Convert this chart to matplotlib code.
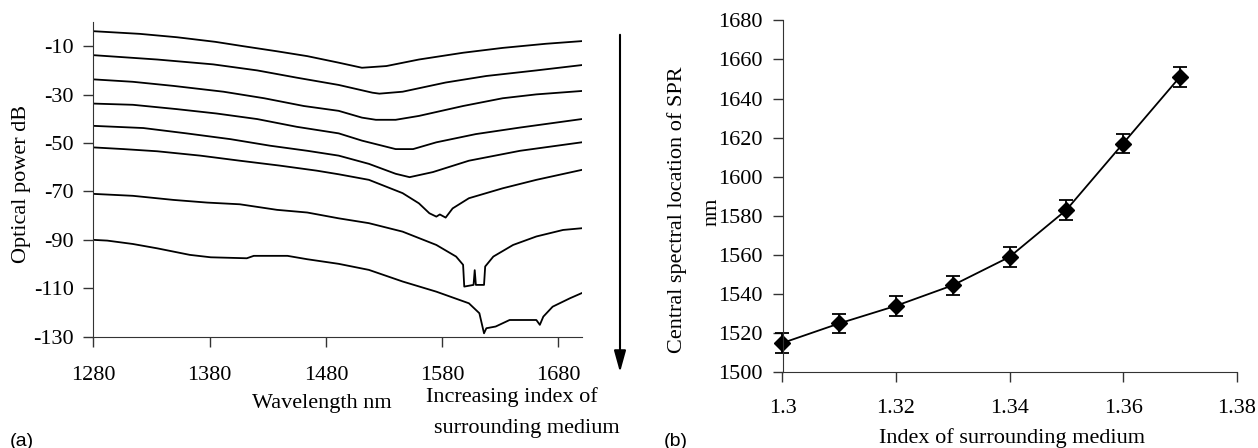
import matplotlib
matplotlib.use("Agg")
import matplotlib.pyplot as plt

plt.rcParams['font.family'] = ['Liberation Serif', 'DejaVu Serif']
plt.rcParams['font.size'] = 16
plt.rcParams['axes.unicode_minus'] = False

# ---- Panel (a): spectra (wavelength nm, optical power dB) ----
wl1 = [1280, 1320, 1352, 1385, 1409, 1438, 1464, 1491, 1511, 1532, 1560, 1598, 1632, 1669, 1700]
p1 = [-3.8, -4.9, -6.3, -8.2, -10.0, -12.1, -14.1, -16.8, -18.9, -18.2, -15.5, -12.7, -10.7, -9.0, -7.9]

wl2 = [1280, 1335, 1383, 1421, 1455, 1491, 1520, 1526, 1546, 1583, 1618, 1661, 1700]
p2 = [-13.7, -15.5, -17.5, -20.0, -23.0, -26.0, -29.2, -29.6, -28.8, -25.0, -22.3, -20.0, -17.8]

wl3 = [1280, 1314, 1349, 1392, 1427, 1461, 1491, 1511, 1523, 1540, 1560, 1598, 1632, 1661, 1700]
p3 = [-23.7, -24.7, -26.4, -28.8, -31.5, -34.7, -36.7, -39.5, -40.4, -40.4, -38.8, -34.7, -31.5, -29.9, -28.5]

wl4 = [1280, 1314, 1352, 1386, 1421, 1455, 1491, 1511, 1540, 1555, 1575, 1609, 1647, 1700]
p4 = [-33.7, -34.2, -36.0, -37.8, -40.1, -43.3, -46.0, -49.0, -52.5, -52.5, -49.7, -46.3, -43.6, -40.1]

wl5 = [1280, 1323, 1360, 1398, 1432, 1464, 1491, 1517, 1540, 1552, 1572, 1603, 1647, 1700]
p5 = [-42.9, -43.8, -46.0, -48.4, -51.1, -53.2, -55.2, -58.6, -62.7, -64.1, -62.0, -57.3, -53.2, -49.7]

wl6 = [1280, 1306, 1335, 1372, 1406, 1440, 1472, 1491, 1517, 1546, 1560, 1569, 1575,
       1578, 1583, 1589, 1603, 1632, 1661, 1700]
p6 = [-51.8, -52.5, -53.4, -55.2, -57.3, -59.3, -61.4, -62.9, -65.2, -70.7, -74.9, -79.0, -80.4,
      -79.5, -80.8, -77.0, -72.8, -68.7, -65.2, -61.1]

wl7 = [1280, 1314, 1349, 1378, 1406, 1438, 1464, 1491, 1517, 1546, 1575, 1592, 1598, 1599,
       1607, 1608, 1609, 1616, 1617, 1624, 1641, 1661, 1684, 1700]
p7 = [-71.0, -71.8, -73.5, -74.6, -75.3, -77.6, -78.7, -81.1, -83.1, -86.6, -92.1, -96.9, -100.3, -109.3,
      -108.6, -102.5, -108.6, -108.6, -101.0, -96.9, -92.1, -88.6, -85.9, -85.2]

wl8 = [1280, 1292, 1314, 1335, 1363, 1381, 1412, 1418, 1447, 1464, 1491, 1517, 1546, 1575, 1603,
       1612, 1616, 1618, 1626, 1638, 1661, 1664, 1667, 1675, 1690, 1700]
p8 = [-90.0, -90.3, -91.7, -93.5, -96.2, -97.2, -97.6, -96.6, -96.6, -98.0, -99.9, -102.4, -107.2, -111.4, -116.2,
      -120.3, -128.6, -126.5, -125.8, -123.1, -123.1, -125.1, -121.7, -117.6, -114.1, -112.0]

spectra = [(wl1, p1), (wl2, p2), (wl3, p3), (wl4, p4), (wl5, p5), (wl6, p6), (wl7, p7), (wl8, p8)]

a_xticks = [1280, 1380, 1480, 1580, 1680]
a_yticks = [-10, -30, -50, -70, -90, -110, -130]

# ---- Panel (b): SPR location vs refractive index ----
index_n = [1.30, 1.31, 1.32, 1.33, 1.34, 1.35, 1.36, 1.37]
spr_nm = [1515, 1525, 1534, 1544.5, 1559, 1583, 1617, 1651]
spr_err = [5, 5, 5, 5, 5, 5, 5, 5]
b_xticks = [1.30, 1.32, 1.34, 1.36, 1.38]
b_xticklabels = ["1.3", "1.32", "1.34", "1.36", "1.38"]
b_yticks = [1500, 1520, 1540, 1560, 1580, 1600, 1620, 1640, 1660, 1680]

W, H = 1258, 448
fig = plt.figure(figsize=(W / 100, H / 100), dpi=100)

def fx(px):
    return px / W

def fy(py):
    return 1 - py / H

# Panel (a)
ax1 = fig.add_axes([fx(93.3), fy(336.7), fx(581.7 - 93.3), (336.7 - 22) / H])
for wl, p in spectra:
    ax1.plot(wl, p, color='black', lw=1.3)
ax1.set_xlim(1280, 1700)
ax1.set_ylim(-130, 0)
ax1.set_xticks(a_xticks)
ax1.set_yticks(a_yticks)
ax1.spines['top'].set_visible(False)
ax1.spines['right'].set_visible(False)
for s in ['left', 'bottom']:
    ax1.spines[s].set_color('#333333')
ax1.tick_params(direction='out', length=7, width=1, colors='#333333', labelcolor='black')
ax1.tick_params(axis='x', pad=14)
ax1.tick_params(axis='y', pad=7)

fig.text(fx(22), fy(184), "Optical power dB", rotation=90, ha='center', va='center', fontsize=16)
fig.text(fx(322), fy(408), "Wavelength nm", ha='center', va='baseline', fontsize=16)
fig.text(fx(512), fy(402), "Increasing index of", ha='center', va='baseline', fontsize=16)
fig.text(fx(527), fy(433), "surrounding medium", ha='center', va='baseline', fontsize=16)

fig.add_artist(matplotlib.patches.FancyArrowPatch(
    (fx(620), fy(32)), (fx(620), fy(375)), transform=fig.transFigure,
    arrowstyle='-|>,head_length=0.65,head_width=0.18', mutation_scale=20,
    color='black', lw=1.5))

fig.text(fx(10), fy(446), "(a)", family=['Liberation Sans', 'DejaVu Sans'], fontsize=14,
         ha='left', va='baseline')
fig.text(fx(664), fy(446), "(b)", family=['Liberation Sans', 'DejaVu Sans'], fontsize=14,
         ha='left', va='baseline')

# Panel (b)
ax2 = fig.add_axes([fx(782.5), fy(372.3), fx(1236.6 - 782.5), (372.3 - 20.3) / H])
ax2.errorbar(index_n, spr_nm, yerr=spr_err, color='black', lw=1.3, marker='D',
             markersize=8, capsize=5, elinewidth=1.3, capthick=1.3, clip_on=False)
ax2.set_xlim(1.30, 1.38)
ax2.set_ylim(1500, 1680)
ax2.set_xticks(b_xticks)
ax2.set_xticklabels(b_xticklabels)
ax2.set_yticks(b_yticks)
ax2.spines['top'].set_visible(False)
ax2.spines['right'].set_visible(False)
for s in ['left', 'bottom']:
    ax2.spines[s].set_color('#333333')
ax2.tick_params(direction='out', length=7, width=1, colors='#333333', labelcolor='black')
ax2.tick_params(axis='x', pad=12)
ax2.tick_params(axis='y', pad=7)

fig.text(fx(677), fy(210), "Central spectral location of SPR", rotation=90,
         ha='center', va='center', fontsize=16)
fig.text(fx(712), fy(212), "nm", rotation=90, ha='center', va='center', fontsize=16)
fig.text(fx(1012), fy(443), "Index of surrounding medium", ha='center', va='baseline', fontsize=16)

fig.savefig("out.png", dpi=100)
